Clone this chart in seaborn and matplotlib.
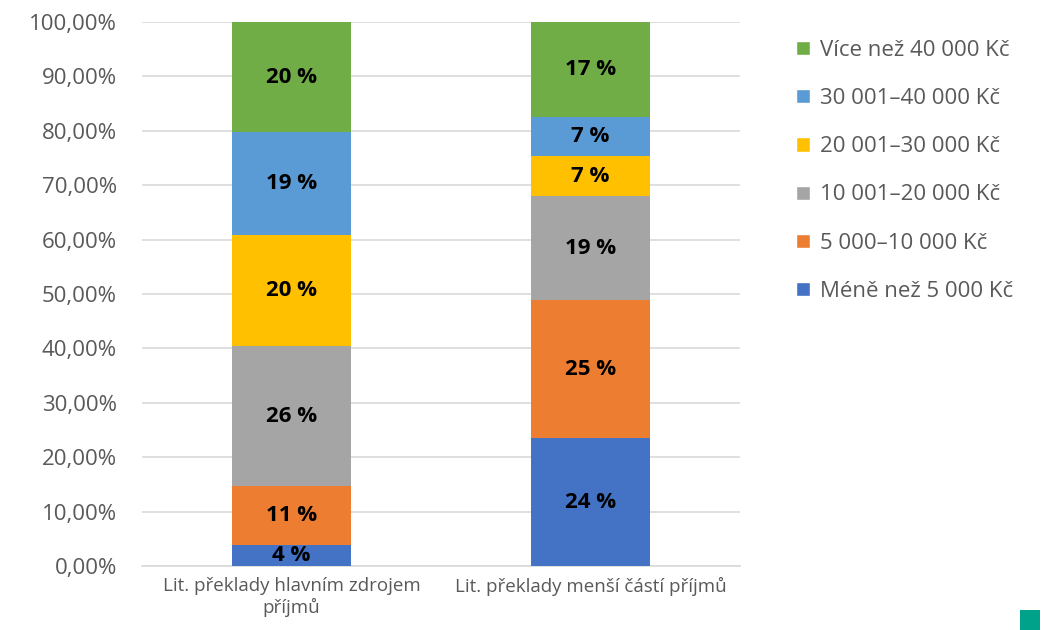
import matplotlib
matplotlib.use("Agg")
import matplotlib.pyplot as plt
import seaborn as sns
import numpy as np
import pandas as pd
from matplotlib.patches import Patch, Rectangle
from matplotlib.ticker import FuncFormatter

categories = ["Lit. překlady hlavním zdrojem\npříjmů", "Lit. překlady menší částí příjmů"]
series = ["Méně než 5 000 Kč", "5 000–10 000 Kč", "10 001–20 000 Kč",
          "20 001–30 000 Kč", "30 001–40 000 Kč", "Více než 40 000 Kč"]
values_main = [3.8, 10.85, 25.8, 20.35, 18.9, 20.3]
values_minor = [23.5, 25.4, 19.1, 7.3, 7.3, 17.4]
colors = ["#4472C4", "#ED7D31", "#A5A5A5", "#FFC000", "#5B9BD5", "#70AD47"]
yticks = [0, 10, 20, 30, 40, 50, 60, 70, 80, 90, 100]

sns.set_theme(style="white")
plt.rcParams['font.family'] = ['Open Sans', 'DejaVu Sans']

fig = plt.figure(figsize=(10.49, 6.30), dpi=100)
ax = fig.add_axes([0.1354, 0.1016, 0.570, 0.8634])

vals = np.array([values_main, values_minor])  # shape (2, 6)
cum = np.cumsum(vals, axis=1)

# draw from top layer to bottom so lower layers overlay
for i in range(len(series) - 1, -1, -1):
    df = pd.DataFrame({"cat": categories, "val": cum[:, i]})
    sns.barplot(data=df, x="cat", y="val", color=colors[i], width=0.4,
                saturation=1, linewidth=0, ax=ax, zorder=3)

# labels
for j in range(len(categories)):
    for i in range(len(series)):
        mid = cum[j, i] - vals[j, i] / 2
        ax.text(j, mid, f"{int(round(vals[j, i]))} %", ha="center", va="center",
                fontsize=16, fontweight="bold", color="black", zorder=5)

ax.set_ylim(0, 100)
ax.set_xlim(-0.5, 1.5)
ax.set_yticks(yticks)
ax.yaxis.set_major_formatter(FuncFormatter(lambda v, p: f"{v:.2f}".replace(".", ",") + "%"))
ax.grid(axis="y", color="#D9D9D9", linewidth=1.2, zorder=0)
ax.set_axisbelow(True)
for s in ["top", "right", "left"]:
    ax.spines[s].set_visible(False)
ax.spines["bottom"].set_color("#D9D9D9")
ax.spines["bottom"].set_linewidth(1.2)
ax.tick_params(axis="y", labelsize=16, colors="#595959", length=0, pad=18)
ax.tick_params(axis="x", labelsize=13.5, colors="#595959", length=0, pad=8)
ax.set_xlabel("")
ax.set_ylabel("")

handles = [Patch(facecolor=colors[i], label=series[i]) for i in range(len(series) - 1, -1, -1)]
fig.legend(handles=handles, loc="upper left", bbox_to_anchor=(0.740, 0.968), frameon=False,
           fontsize=16, labelcolor="#595959", handlelength=0.6, handleheight=0.6,
           handletextpad=0.45, labelspacing=1.22)

fig.patches.append(Rectangle((1020 / 1049, 0), 20 / 1049, 20 / 630, transform=fig.transFigure,
                             facecolor="#00A38A", edgecolor="none"))

fig.savefig("out.png", dpi=100)
